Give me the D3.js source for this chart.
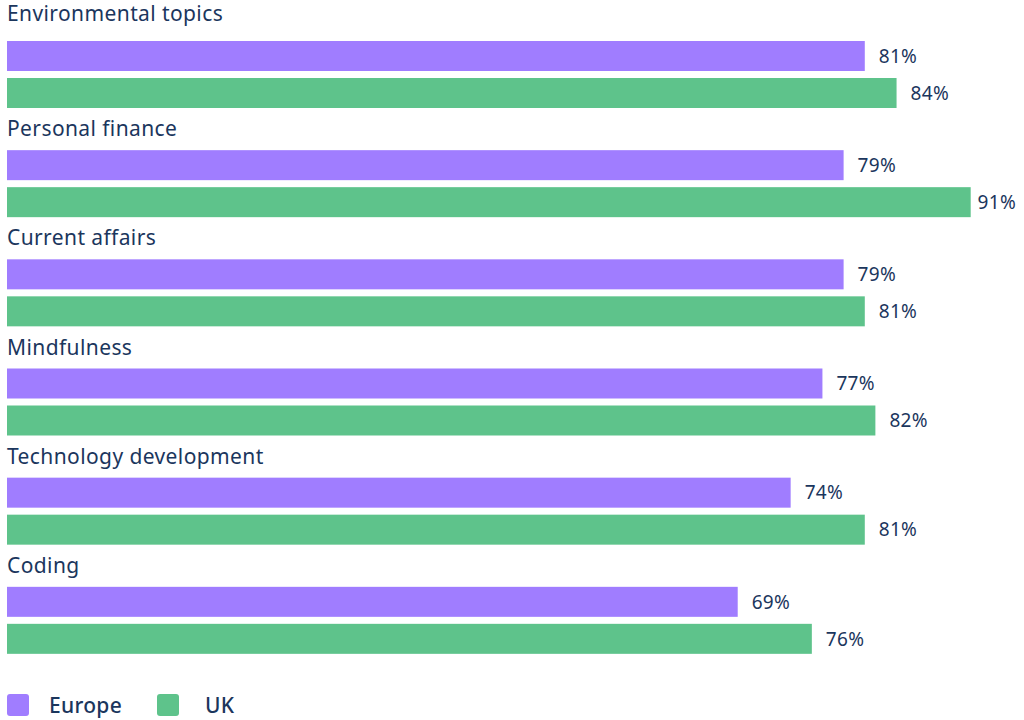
<!DOCTYPE html>
<html>
<head>
<meta charset="utf-8">
<script src="https://cdn.jsdelivr.net/npm/d3@7"></script>
<style>
  body { margin: 0; background: #fff; }
  text { font-family: "Noto Sans", sans-serif; fill: #1b365d; }
</style>
</head>
<body>
<div id="chart"></div>
<script>
var categories = ["Environmental topics", "Personal finance", "Current affairs", "Mindfulness", "Technology development", "Coding"];
var europe = [81, 79, 79, 77, 74, 69];
var uk = [84, 91, 81, 82, 81, 76];
var seriesNames = ["Europe", "UK"];
var colors = ["#a07dff", "#5ec38b"];

var width = 1024, height = 720;

var svg = d3.select("#chart")
            .append("svg")
            .attr("width", width)
            .attr("height", height);

var x = d3.scaleLinear()
          .domain([0, 100])
          .range([7, 1066]);

// band start = top of the Europe bar of each category
var y = d3.scaleBand()
          .domain(categories)
          .range([41, 696])
          .paddingInner(0);

var barH = 30;
var barGap = 7;

var groups = svg.selectAll("g.cat")
                .data(categories)
                .enter()
                .append("g")
                .attr("class", "cat")
                .attr("transform", function(d) { return "translate(0," + y(d) + ")"; });

groups.append("text")
      .attr("x", 7)
      .attr("y", function(d, i) { return i === 0 ? -20 : -14; })
      .style("font-size", "21px")
      .style("letter-spacing", "0.4px")
      .text(function(d) { return d; });

var rows = groups.selectAll("g.row")
                 .data(function(d, i) {
                   return [{s: 0, v: europe[i]}, {s: 1, v: uk[i]}];
                 })
                 .enter()
                 .append("g")
                 .attr("class", "row")
                 .attr("transform", function(d) { return "translate(0," + (d.s * (barH + barGap)) + ")"; });

rows.append("rect")
    .attr("x", x(0))
    .attr("y", 0)
    .attr("width", function(d) { return x(d.v) - x(0); })
    .attr("height", barH)
    .attr("fill", function(d) { return colors[d.s]; });

rows.append("text")
    .attr("y", barH / 2)
    .attr("dy", "0.36em")
    .style("font-size", "19px")
    .style("letter-spacing", "0.3px")
    .text(function(d) { return d.v + "%"; })
    .attr("x", function(d) {
      var w = this.getComputedTextLength();
      return Math.min(x(d.v) + 14, width - w - 8);
    });

// legend
var legend = svg.selectAll("g.legend")
                .data(seriesNames)
                .enter()
                .append("g")
                .attr("class", "legend")
                .attr("transform", function(d, i) { return "translate(" + (7 + i * 150) + ",694)"; });

legend.append("rect")
      .attr("width", 22)
      .attr("height", 22)
      .attr("rx", 3)
      .attr("fill", function(d, i) { return colors[i]; });

legend.append("text")
      .attr("x", function(d, i) { return 42 + i * 6; })
      .attr("y", 11)
      .attr("dy", "0.36em")
      .style("font-size", "21px")
      .style("font-weight", "500")
      .style("letter-spacing", "0.3px")
      .text(function(d) { return d; });
</script>
</body>
</html>
